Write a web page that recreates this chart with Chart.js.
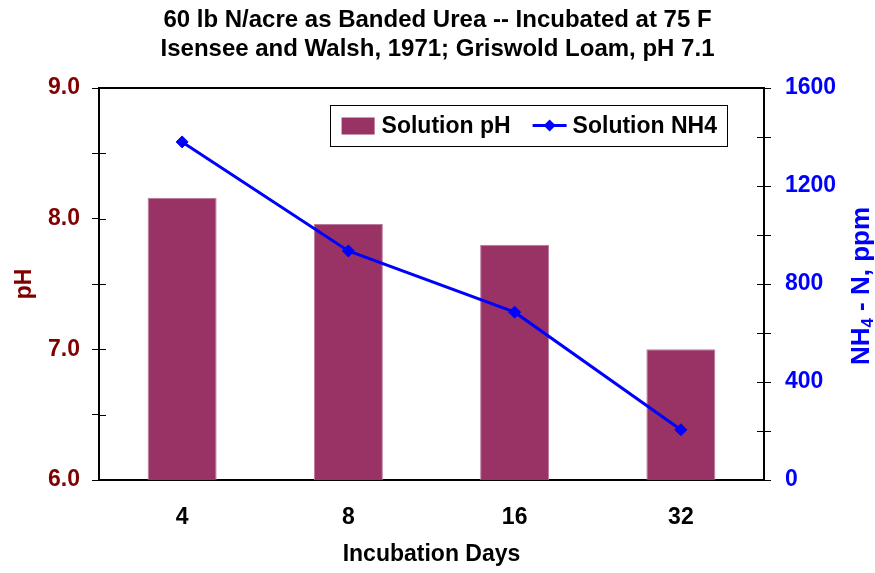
<!DOCTYPE html>
<html>
<head>
<meta charset="utf-8">
<script src="https://cdn.jsdelivr.net/npm/chart.js@4"></script>
<style>
  html, body { margin: 0; padding: 0; background: #fff; }
  #wrap { width: 875px; height: 573px; }
</style>
</head>
<body>
<div id="wrap"><canvas id="grafica"></canvas></div>
<script>
const dias = ['4', '8', '16', '32'];
const phSolucion = [8.16, 7.96, 7.80, 7.00];
const nh4Solucion = [1380, 935, 685, 205];
const tituloLineas = ['60 lb N/acre as Banded Urea -- Incubated at 75 F',
                      'Isensee and Walsh, 1971; Griswold Loam, pH 7.1'];

const FUENTE = '"Liberation Sans", Arial, sans-serif';
const VINO = '#800000';
const AZUL = '#0000FF';
const BARRA = '#993366';

// bordes superiores, marcas interiores, titulo derecho y leyenda
const extras = {
    id: 'extras',
    afterDraw(chart) {
        const ctx = chart.ctx;
        const a = chart.chartArea;
        const yL = chart.scales.y;
        const yR = chart.scales.y1;
        ctx.save();
        ctx.strokeStyle = '#000';
        ctx.lineWidth = 2;
        ctx.beginPath();
        ctx.moveTo(a.left, a.top);
        ctx.lineTo(a.right, a.top);
        ctx.stroke();
        ctx.lineWidth = 1;
        ctx.beginPath();
        yL.ticks.forEach(t => {
            const p = Math.round(yL.getPixelForValue(t.value)) + 0.5;
            ctx.moveTo(a.left, p); ctx.lineTo(a.left + 7, p);
        });
        yR.ticks.forEach(t => {
            const p = Math.round(yR.getPixelForValue(t.value)) + 0.5;
            ctx.moveTo(a.right, p); ctx.lineTo(a.right - 7, p);
        });
        ctx.stroke();

        // titulo del eje derecho con subindice
        ctx.translate(862, (a.top + a.bottom) / 2 + 2);
        ctx.rotate(-Math.PI / 2);
        ctx.fillStyle = AZUL;
        ctx.textBaseline = 'middle';
        const big = 'bold 26px ' + FUENTE;
        const small = 'bold 17px ' + FUENTE;
        const partes = [['NH', big, 0], ['4', small, 6], [' - N, ppm', big, 0]];
        let ancho = 0;
        partes.forEach(p => { ctx.font = p[1]; ancho += ctx.measureText(p[0]).width; });
        let x = -ancho / 2;
        partes.forEach(p => {
            ctx.font = p[1];
            ctx.fillText(p[0], x, p[2]);
            x += ctx.measureText(p[0]).width;
        });
        ctx.restore();

        // leyenda
        ctx.save();
        ctx.font = 'bold 23px ' + FUENTE;
        const ds = chart.data.datasets;
        const w1 = ctx.measureText(ds[0].label).width;
        const w2 = ctx.measureText(ds[1].label).width;
        const anchoCaja = 12 + 33 + 7 + w1 + 22 + 34 + 6 + w2 + 10;
        const x0 = a.right - 37 - anchoCaja;
        const y0 = a.top + 17;
        const alto = 41;
        ctx.fillStyle = '#fff';
        ctx.fillRect(x0, y0, anchoCaja, alto);
        ctx.strokeStyle = '#000';
        ctx.lineWidth = 1;
        ctx.strokeRect(Math.round(x0) + 0.5, Math.round(y0) + 0.5, Math.round(anchoCaja), alto);
        const cy = y0 + alto / 2;
        ctx.fillStyle = ds[0].backgroundColor;
        ctx.fillRect(x0 + 12, cy - 8, 33, 17);
        ctx.fillStyle = '#000';
        ctx.textBaseline = 'middle';
        ctx.fillText(ds[0].label, x0 + 52, cy + 1);
        const lx = x0 + 52 + w1 + 22;
        ctx.strokeStyle = ds[1].borderColor;
        ctx.lineWidth = 3;
        ctx.beginPath();
        ctx.moveTo(lx, cy); ctx.lineTo(lx + 34, cy);
        ctx.stroke();
        ctx.fillStyle = ds[1].borderColor;
        ctx.beginPath();
        ctx.moveTo(lx + 17, cy - 6); ctx.lineTo(lx + 23, cy);
        ctx.lineTo(lx + 17, cy + 6); ctx.lineTo(lx + 11, cy);
        ctx.closePath();
        ctx.fill();
        ctx.fillStyle = '#000';
        ctx.fillText(ds[1].label, lx + 40, cy + 1);
        ctx.restore();
    }
};

const grafica = new Chart(document.getElementById('grafica').getContext('2d'), {
    data: {
        labels: dias,
        datasets: [{
            type: 'bar',
            label: 'Solution pH',
            data: phSolucion,
            yAxisID: 'y',
            backgroundColor: BARRA,
            borderColor: '#b87a98',
            borderWidth: 1,
            categoryPercentage: 1,
            barPercentage: 0.415,
            order: 1
        }, {
            type: 'line',
            label: 'Solution NH4',
            data: nh4Solucion,
            yAxisID: 'y1',
            borderColor: AZUL,
            backgroundColor: AZUL,
            borderWidth: 3,
            pointStyle: 'rectRot',
            pointRadius: 6,
            pointBorderWidth: 1,
            tension: 0,
            order: 0
        }]
    },
    options: {
        responsive: true,
        maintainAspectRatio: false,
        animation: false,
        layout: { padding: 0 },
        plugins: {
            legend: { display: false },
            tooltip: { enabled: false },
            title: {
                display: true,
                text: tituloLineas,
                color: '#000',
                font: { family: FUENTE, size: 24, weight: 'bold', lineHeight: 1.217 },
                padding: { top: 5.7, bottom: 23.9 }
            }
        },
        scales: {
            x: {
                offset: true,
                grid: { display: true, drawOnChartArea: false, drawTicks: false },
                border: { display: true, color: '#000', width: 2 },
                ticks: { color: '#000', padding: 24, font: { family: FUENTE, size: 23, weight: 'bold' } },
                title: {
                    display: true, text: 'Incubation Days', color: '#000',
                    font: { family: FUENTE, size: 23, weight: 'bold' },
                    padding: { top: 0, bottom: 5 }
                },
                afterFit(s) { s.height = 93; }
            },
            y: {
                position: 'left',
                min: 6, max: 9,
                grid: { drawOnChartArea: false, tickLength: 7, color: '#000', lineWidth: 1 },
                border: { display: true, color: '#000', width: 2 },
                ticks: {
                    stepSize: 0.5, color: VINO, padding: 12,
                    font: { family: FUENTE, size: 23, weight: 'bold' },
                    callback: v => (Math.abs(v % 1) < 1e-9 ? v.toFixed(1) : '')
                },
                title: {
                    display: true, text: 'pH', color: VINO,
                    font: { family: FUENTE, size: 23, weight: 'bold' },
                    padding: { top: 11, bottom: 0 }
                },
                afterFit(s) { s.width = 99; }
            },
            y1: {
                position: 'right',
                min: 0, max: 1600,
                grid: { drawOnChartArea: false, tickLength: 7, color: '#000', lineWidth: 1 },
                border: { display: true, color: '#000', width: 2 },
                ticks: {
                    stepSize: 200, color: AZUL, padding: 14,
                    font: { family: FUENTE, size: 23, weight: 'bold' },
                    callback: v => (v % 400 === 0 ? v : '')
                },
                title: { display: false },
                afterFit(s) { s.width = 111; }
            }
        }
    },
    plugins: [extras]
});
</script>
</body>
</html>
